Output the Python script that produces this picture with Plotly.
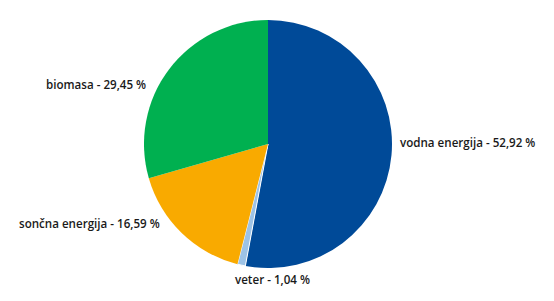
import plotly.graph_objects as go

labels = ["vodna energija", "veter", "sončna energija", "biomasa"]
values = [52.92, 1.04, 16.59, 29.45]
value_text = ["52,92", "1,04", "16,59", "29,45"]
colors = ["#004A98", "#9DC3E6", "#F9AA00", "#00B050"]

W, H = 554, 301
# label anchor points (pixels) and alignment
label_pos = [(398, 142, "left"), (272.5, 279, "center"), (162, 223, "right"), (148, 85, "right")]

fig = go.Figure(go.Pie(
    labels=labels,
    values=values,
    sort=False,
    direction="clockwise",
    rotation=0,
    marker=dict(colors=colors, line=dict(color="white", width=[0, 1, 0, 0])),
    textinfo="none",
    hoverinfo="label+value",
    showlegend=False,
    domain=dict(x=[144 / W, 392 / W], y=[(H - 268) / H, (H - 20) / H]),
))

for lab, val, (px, py, anchor) in zip(labels, value_text, label_pos):
    fig.add_annotation(
        x=px / W, y=1 - py / H, xref="paper", yref="paper",
        text=f"{lab} - {val} %", showarrow=False,
        xanchor=anchor, yanchor="middle",
        font=dict(family="Open Sans", size=11.6, color="#1a1a1a", weight=600),
    )

fig.update_layout(
    width=W, height=H,
    margin=dict(l=0, r=0, t=0, b=0),
    paper_bgcolor="white",
    plot_bgcolor="white",
)

fig.write_html("out.html")
